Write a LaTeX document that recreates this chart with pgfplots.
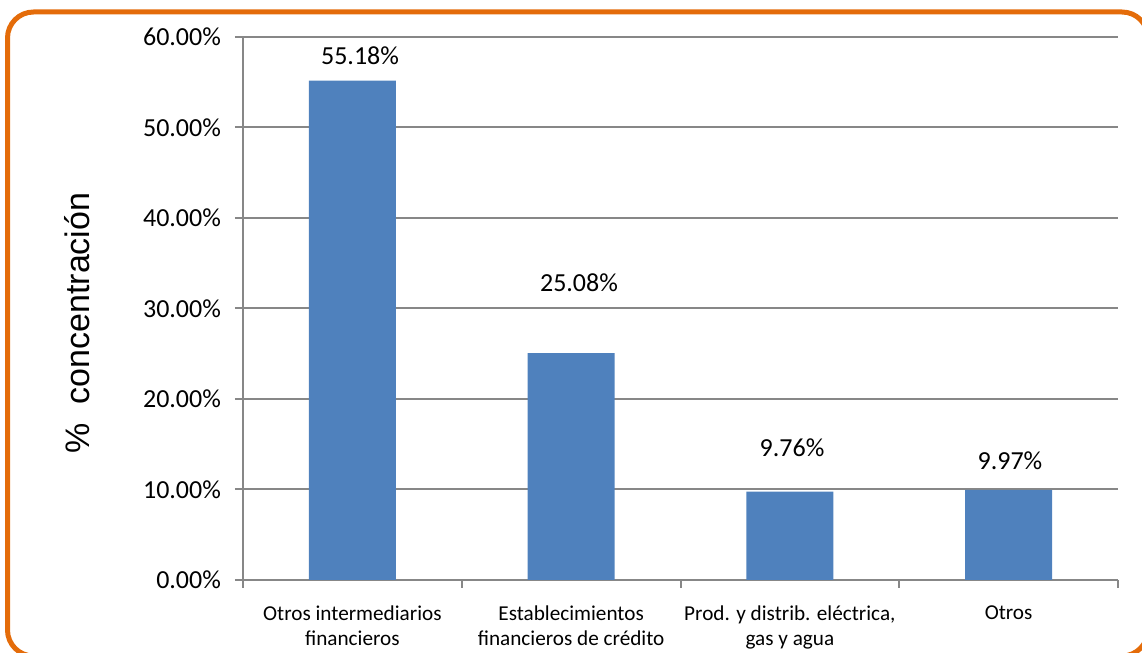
\documentclass[border=0pt]{standalone}
\usepackage{fontspec}
\setmainfont{Carlito}
\newfontfamily\arialfont{Liberation Sans}
\usepackage{pgfplots}
\pgfplotsset{compat=1.18}
\definecolor{barblue}{HTML}{4F81BD}
\definecolor{frameorange}{HTML}{E46C0A}
\definecolor{axisgray}{HTML}{878787}
\begin{document}
\begin{tikzpicture}
\useasboundingbox (0,0) rectangle (571pt,326.5pt);
\clip (0,0) rectangle (571pt,326.5pt);
\draw[frameorange, line width=2.5pt, rounded corners=13pt] (3.75pt,-1.5pt) rectangle (574pt,320.5pt);
\begin{axis}[
  at={(121.5pt,36.5pt)}, anchor=south west,
  scale only axis, width=437.5pt, height=271.5pt,
  xmin=-0.5, xmax=3.5, ymin=0, ymax=60,
  axis x line*=bottom, axis y line*=left,
  axis line style={draw=axisgray, line width=1pt},
  ytick={0,10,20,30,40,50,60},
  yticklabels={0.00\%,10.00\%,20.00\%,30.00\%,40.00\%,50.00\%,60.00\%},
  ymajorgrids, grid style={draw=axisgray, line width=1pt},
  tick align=outside, major tick length=4pt,
  ytick style={draw=axisgray, line width=1pt},
  yticklabel style={font=\fontsize{13}{15}\selectfont, text=black, xshift=-3.5pt},
  xtick={0,1,2,3},
  xticklabels={Otros intermediarios\\financieros, Establecimientos\\financieros de crédito, {Prod. y distrib. eléctrica,\\gas y agua}, Otros},
  xticklabel style={align=center, font=\fontsize{10.6}{12.5}\selectfont, text=black, yshift=-5.5pt},
  xtick style={draw=none},
  extra x ticks={-0.5,0.5,1.5,2.5,3.5},
  extra x tick labels={},
  extra x tick style={xtick style={draw=axisgray, line width=1pt}, grid=none},
]
\addplot[ybar, bar width=43.5pt, fill=barblue, draw=none] coordinates {(0,55.18) (1,25.08) (2,9.76) (3,9.97)};
\node[font=\fontsize{13}{15}\selectfont] at (axis cs:0.035,57.88) {55.18\%};
\node[font=\fontsize{13}{15}\selectfont] at (axis cs:1.036,32.84) {25.08\%};
\node[font=\fontsize{13}{15}\selectfont] at (axis cs:2.010,14.59) {9.76\%};
\node[font=\fontsize{13}{15}\selectfont] at (axis cs:3.006,13.16) {9.97\%};
\end{axis}
\node[rotate=90, font=\arialfont\fontsize{17}{17}\selectfont] at (38.5pt,165pt) {\%\ \ concentración};
\end{tikzpicture}
\end{document}
